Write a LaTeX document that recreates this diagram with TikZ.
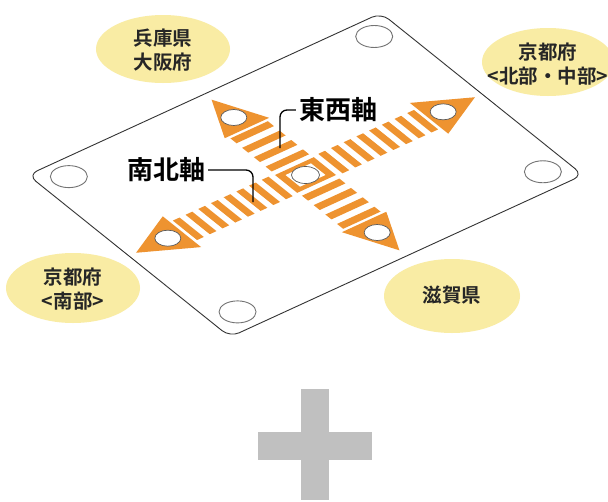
\documentclass[tikz,border=0pt]{standalone}
\usepackage{fontspec}
\setmainfont{Noto Sans CJK JP}[BoldFont={Noto Sans CJK JP Bold}]
\usepackage{tikz}

\definecolor{armorange}{HTML}{EE9330}
\definecolor{bubbleyellow}{HTML}{F9ECA4}
\definecolor{plusgray}{HTML}{C0C0C0}

\begin{document}
\begin{tikzpicture}[x=1pt,y=-1pt,
  bubbletext/.style={align=center,inner sep=0pt,text=black!85,
    font=\fontsize{19.5}{24}\selectfont\bfseries},
  axislabel/.style={inner sep=3pt,font=\fontsize{26}{28}\selectfont\bfseries},
  leader/.style={line width=1.3pt,rounded corners=7pt},
  hole/.style={draw=black!55,fill=white,line width=0.9pt},
  armhole/.style={draw=black!65,fill=white,line width=0.7pt},
  arm/.style={fill=armorange}]
\useasboundingbox (0,0) rectangle (608,501);
\fill[white] (0,0) rectangle (608,501);

% the plate, drawn in its own skewed frame (u along the long side)
\begin{scope}[shift={(28,175)},x={(353pt,162pt)},y={(202pt,-162pt)}]
\draw[rounded corners=10pt,line width=0.9pt,draw=black!80]
  (0,0) -- (1,0) -- (1,1) -- (0,1) -- cycle;
% arrow heads
\fill[arm] (0.98,0.5) -- (0.85,0.405) -- (0.85,0.595) -- cycle;
\fill[arm] (0.02,0.5) -- (0.15,0.405) -- (0.15,0.595) -- cycle;
\fill[arm] (0.5,0.035) -- (0.437,0.21) -- (0.563,0.21) -- cycle;
\fill[arm] (0.5,0.965) -- (0.437,0.79) -- (0.563,0.79) -- cycle;
% stripes along u
\foreach \k in {0,...,7}{
  \pgfmathsetmacro\d{0.08+0.036*\k}
  \fill[arm] (0.4905+\d,0.44) -- (0.5095+\d,0.44) -- (0.5095+\d,0.56) -- (0.4905+\d,0.56) -- cycle;
  \fill[arm] (0.4905-\d,0.44) -- (0.5095-\d,0.44) -- (0.5095-\d,0.56) -- (0.4905-\d,0.56) -- cycle;
}
% stripes along v
\foreach \k in {0,...,3}{
  \pgfmathsetmacro\d{0.09+0.058*\k}
  \fill[arm] (0.447,0.485+\d) -- (0.553,0.485+\d) -- (0.553,0.515+\d) -- (0.447,0.515+\d) -- cycle;
  \fill[arm] (0.447,0.485-\d) -- (0.553,0.485-\d) -- (0.553,0.515-\d) -- (0.447,0.515-\d) -- cycle;
}
% centre frame
\fill[arm] (0.445,0.445) -- (0.555,0.445) -- (0.555,0.555) -- (0.445,0.555) -- cycle;
\fill[white] (0.464,0.464) -- (0.536,0.464) -- (0.536,0.536) -- (0.464,0.536) -- cycle;
% hole positions
\coordinate (corner l) at (0.07,0.08);
\coordinate (corner t) at (0.935,0.08);
\coordinate (corner r) at (0.935,0.915);
\coordinate (corner b) at (0.07,0.915);
\coordinate (hole ne) at (0.89,0.5);
\coordinate (hole sw) at (0.11,0.5);
\coordinate (hole nw) at (0.5,0.145);
\coordinate (hole se) at (0.5,0.855);
\coordinate (hole c) at (0.5,0.5);
\end{scope}

% holes
\foreach \c in {corner l,corner t,corner r,corner b}
  \draw[hole] (\c) ellipse [x radius=18.5,y radius=11];
\foreach \c in {hole ne,hole sw,hole nw,hole se}
  \draw[armhole] (\c) ellipse [x radius=13,y radius=8];
\draw[armhole] (hole c) ellipse [x radius=14,y radius=8.5];

% axis labels
\node[axislabel] (ew) at (338,110) {東西軸};
\node[axislabel] (ns) at (166,170) {南北軸};
\coordinate (ew foot) at (280,148);
\coordinate (ns foot) at (253,202);
\draw[leader] (ew.west) -| (ew foot);
\draw[leader] (ns.east) -| (ns foot);

% neighbours
\fill[bubbleyellow] (163,49) ellipse [x radius=67,y radius=34];
\node[bubbletext] (hyogo) at (163,50) {兵庫県\\大阪府};
\fill[bubbleyellow] (548,62) ellipse [x radius=66,y radius=34];
\node[bubbletext] (kyoto n) at (548,64) {京都府\\<北部・中部>};
\fill[bubbleyellow] (73,288) ellipse [x radius=67,y radius=35];
\node[bubbletext] (kyoto s) at (73,289) {京都府\\<南部>};
\fill[bubbleyellow] (452,296) ellipse [x radius=68,y radius=37];
\node[bubbletext] (shiga) at (452,295) {滋賀県};

% plus
\fill[plusgray] (301,389) rectangle (329,500);
\fill[plusgray] (258,432) rectangle (372,460);
\end{tikzpicture}
\end{document}
